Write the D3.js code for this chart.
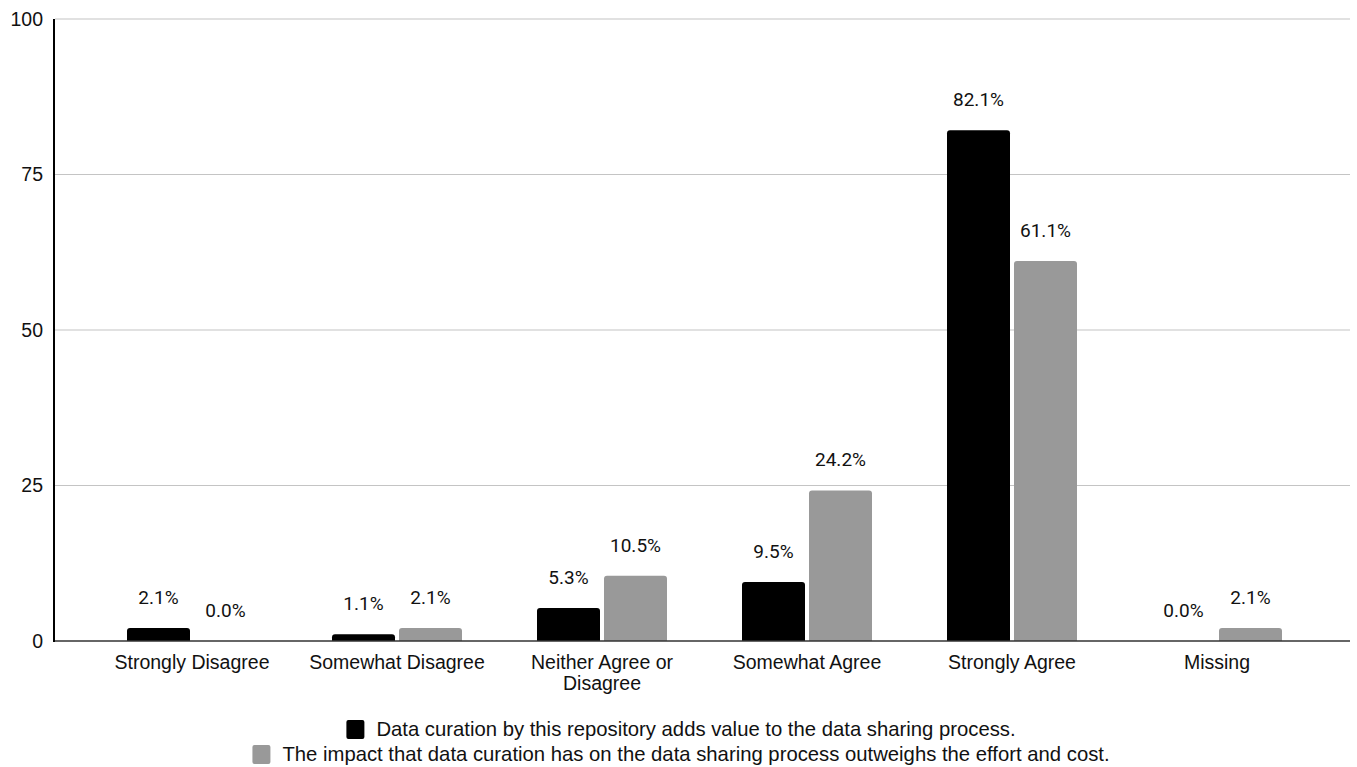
<!DOCTYPE html>
<html>
<head>
<meta charset="utf-8">
<script src="https://cdn.jsdelivr.net/npm/d3@7"></script>
<style>
  html, body { margin: 0; padding: 0; background: #ffffff; }
  svg { display: block; }
</style>
</head>
<body>
<svg id="chart" width="1357" height="767"></svg>
<script>
// Survey responses, percent of respondents
const categories = [
  "Strongly Disagree",
  "Somewhat Disagree",
  "Neither Agree or\nDisagree",
  "Somewhat Agree",
  "Strongly Agree",
  "Missing"
];
const curationAddsValue = [2.1, 1.1, 5.3, 9.5, 82.1, 0.0];
const impactOutweighsCost = [0.0, 2.1, 10.5, 24.2, 61.1, 2.1];
const seriesNames = [
  "Data curation by this repository adds value to the data sharing process.",
  "The impact that data curation has on the data sharing process outweighs the effort and cost."
];
const seriesColors = ["#000000", "#999999"];
const yTicks = [0, 25, 50, 75, 100];

const svg = d3.select("#chart");
const axisFont = "'Liberation Sans', Arial, Helvetica, sans-serif";
const valueFont = "Roboto, 'Liberation Sans', Arial, sans-serif";

const plotLeft = 54, plotRight = 1350, plotTop = 19, plotBottom = 641;

const y = d3.scaleLinear().domain([0, 100]).range([plotBottom, plotTop]);
const x = d3.scaleBand().domain(categories).range([89.5, 1319.5]).padding(0);
const barWidth = 63, barGap = 4;
const sub = d3.scaleBand().domain([0, 1])
  .range([-(barWidth + barGap / 2), barWidth + barGap / 2])
  .paddingInner(barGap / (barWidth + barGap));

// Horizontal gridlines
svg.append("g")
  .selectAll("line")
  .data(yTicks.filter(d => d > 0))
  .join("line")
  .attr("x1", plotLeft + 1).attr("x2", plotRight)
  .attr("y1", d => y(d)).attr("y2", d => y(d))
  .attr("stroke", "#c4c4c4").attr("stroke-width", 1.2);

// Y axis with tick labels
const yAxis = d3.axisLeft(y).tickValues(yTicks).tickSize(0).tickPadding(11).tickFormat(d3.format("d"));
const yG = svg.append("g").attr("transform", `translate(${plotLeft},0)`).call(yAxis);
yG.select(".domain").remove();
yG.selectAll("text")
  .attr("font-family", axisFont).attr("font-size", 19.5).attr("fill", "#111");

// Bars with rounded top corners
function barPath(x0, w, yTop, yBase, r) {
  const h = yBase - yTop;
  if (h <= 0) return "";
  const rr = Math.min(r, h, w / 2);
  return `M${x0},${yBase}V${yTop + rr}Q${x0},${yTop} ${x0 + rr},${yTop}` +
         `H${x0 + w - rr}Q${x0 + w},${yTop} ${x0 + w},${yTop + rr}V${yBase}Z`;
}

const rows = [];
categories.forEach((c, i) => {
  [curationAddsValue[i], impactOutweighsCost[i]].forEach((v, s) => {
    rows.push({ cat: c, s, v });
  });
});

const cx = d => x(d.cat) + x.bandwidth() / 2 + sub(d.s);

svg.append("g")
  .selectAll("path")
  .data(rows)
  .join("path")
  .attr("d", d => barPath(cx(d), sub.bandwidth(), y(d.v), y(0), 3))
  .attr("fill", d => seriesColors[d.s]);

// Value labels above bars
svg.append("g")
  .selectAll("text")
  .data(rows)
  .join("text")
  .attr("x", d => cx(d) + sub.bandwidth() / 2)
  .attr("y", d => y(d.v) - 24)
  .attr("text-anchor", "middle")
  .attr("font-family", valueFont).attr("font-size", 19)
  .attr("fill", "#111")
  .text(d => d.v.toFixed(1) + "%");

// Baseline and vertical axis line
svg.append("line")
  .attr("x1", plotLeft).attr("x2", plotRight)
  .attr("y1", y(0)).attr("y2", y(0))
  .attr("stroke", "#333").attr("stroke-width", 1.6);
svg.append("line")
  .attr("x1", plotLeft).attr("x2", plotLeft)
  .attr("y1", plotTop).attr("y2", y(0) + 1)
  .attr("stroke", "#000").attr("stroke-width", 2);

// Category labels (multi-line where needed)
const xLabels = svg.append("g")
  .selectAll("text")
  .data(categories)
  .join("text")
  .attr("x", d => x(d) + x.bandwidth() / 2)
  .attr("y", 669)
  .attr("text-anchor", "middle")
  .attr("font-family", axisFont).attr("font-size", 19.5).attr("fill", "#111");
xLabels.each(function (d) {
  const t = d3.select(this);
  d.split("\n").forEach((line, k) => {
    t.append("tspan")
      .attr("x", x(d) + x.bandwidth() / 2)
      .attr("dy", k === 0 ? 0 : 20.5)
      .text(line);
  });
});

// Legend: two centered rows
const legend = svg.append("g");
const legendRows = [{ y: 736 }, { y: 761 }];
seriesNames.forEach((name, i) => {
  const g = legend.append("g");
  const txt = g.append("text")
    .attr("x", 0).attr("y", legendRows[i].y)
    .attr("font-family", axisFont).attr("font-size", 20.3).attr("fill", "#111")
    .text(name);
  const tw = txt.node().getComputedTextLength();
  const total = 18 + 12 + tw;
  const start = 681 - total / 2;
  g.append("rect")
    .attr("x", start).attr("y", legendRows[i].y - 16)
    .attr("width", 18).attr("height", 19).attr("rx", 2)
    .attr("fill", seriesColors[i]);
  txt.attr("x", start + 18 + 12);
});
</script>
</body>
</html>
